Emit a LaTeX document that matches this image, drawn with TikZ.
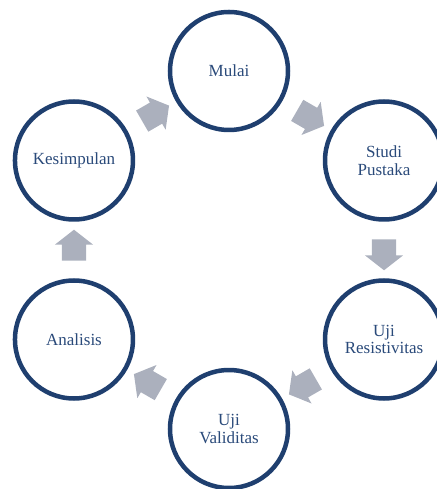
\documentclass[tikz,border=0pt]{standalone}
\usepackage{fontspec}
\setmainfont{Liberation Serif}
\usetikzlibrary{positioning,calc,shapes.arrows}
\definecolor{ckblue}{HTML}{1F3F6F}
\definecolor{cktext}{HTML}{2A4A7A}
\definecolor{ckgray}{HTML}{ABB0BD}

\begin{document}
\begin{tikzpicture}[
    c/.style={circle,draw=ckblue,line width=4.5pt,fill=white,minimum size=118pt,
    inner sep=0pt,align=center,text=cktext,font=\fontsize{17}{17.5}\selectfont},
    panah/.style={single arrow,fill=ckgray,draw=none,inner xsep=0pt,inner ysep=12pt,
    minimum height=31pt,minimum width=38pt,single arrow head extend=7pt,
    single arrow tip angle=104}]
    \useasboundingbox (-229pt,-239pt) rectangle (207pt,250pt);
    \node[c] (mulai) at (90:179pt) {Mulai};
    \node[c] (studi) at (30:179pt) {Studi\\Pustaka};
    \node[c] (resist) at (-30:179pt) {Uji\\Resistivitas};
    \node[c] (valid) at (-90:179pt) {Uji\\Validitas};
    \node[c] (analisis) at (-150:179pt) {Analisis};
    \node[c] (simpul) at (150:179pt) {Kesimpulan};
    % panah antar tahap
    \node[panah,rotate=-30] (p1) at ($(mulai)!0.5!(studi)$) {};
    \node[panah,rotate=-90] (p2) at ($(studi)!0.5!(resist)$) {};
    \node[panah,rotate=-150] (p3) at ($(resist)!0.5!(valid)$) {};
    \node[panah,rotate=150] (p4) at ($(valid)!0.5!(analisis)$) {};
    \node[panah,rotate=90] (p5) at ($(analisis)!0.5!(simpul)$) {};
    \node[panah,rotate=30] (p6) at ($(simpul)!0.5!(mulai)$) {};
\end{tikzpicture}
\end{document}
